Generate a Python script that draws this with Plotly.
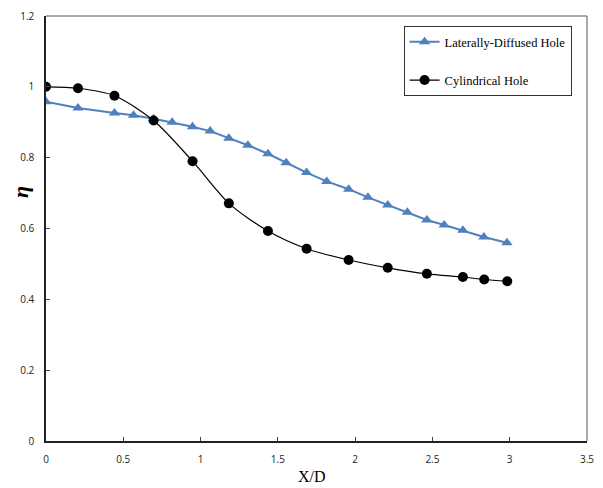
import plotly.graph_objects as go

# Laterally-diffused hole
ld_x = [0.0, 0.207, 0.443, 0.566, 0.696, 0.816, 0.948, 1.062, 1.183, 1.306, 1.436, 1.554,
        1.686, 1.816, 1.958, 2.083, 2.211, 2.338, 2.464, 2.576, 2.697, 2.833, 2.982]
ld_y = [0.958, 0.940, 0.926, 0.920, 0.910, 0.900, 0.887, 0.875, 0.855, 0.835, 0.811, 0.786,
        0.758, 0.733, 0.711, 0.688, 0.666, 0.646, 0.624, 0.610, 0.595, 0.576, 0.560]

# Cylindrical hole
cy_x = [0.0, 0.207, 0.443, 0.696, 0.948, 1.183, 1.436, 1.686, 1.958, 2.211, 2.464, 2.697, 2.835, 2.984]
cy_y = [1.0, 0.996, 0.975, 0.905, 0.790, 0.671, 0.593, 0.543, 0.511, 0.489, 0.472, 0.463, 0.456, 0.451]

x_ticks = [0, 0.5, 1, 1.5, 2, 2.5, 3, 3.5]
y_ticks = [0, 0.2, 0.4, 0.6, 0.8, 1, 1.2]

fig = go.Figure()
fig.add_trace(go.Scatter(
    x=ld_x, y=ld_y, mode="lines+markers", name="Laterally-Diffused Hole",
    line=dict(color="#4F81BD", width=2),
    marker=dict(symbol="triangle-up", size=10, color="#4F81BD"),
    legendgroup="a",
))
fig.add_trace(go.Scatter(
    x=cy_x, y=cy_y, mode="lines+markers", name="Cylindrical Hole",
    line=dict(color="black", width=1.2, shape="spline", smoothing=0.8),
    marker=dict(symbol="circle", size=10, color="black"),
    legendgroup="b",
))

serif = "Liberation Serif, Times New Roman, serif"
fig.update_layout(
    width=603, height=488,
    margin=dict(l=46, r=16, t=16, b=47),
    paper_bgcolor="white", plot_bgcolor="white",
    font=dict(family="Open Sans, Liberation Sans, sans-serif", size=10, color="#222"),
    showlegend=True,
    legend=dict(
        x=0.661, y=0.976, xanchor="left", yanchor="top",
        bordercolor="#333", borderwidth=1, bgcolor="white",
        font=dict(family=serif, size=12.5, color="black"),
        traceorder="grouped", tracegroupgap=19, itemwidth=30,
    ),
    xaxis=dict(
        range=[0, 3.5], tickvals=x_ticks, ticktext=[str(v) for v in x_ticks],
        showgrid=False, zeroline=False, automargin=False,
        showline=True, linecolor="#222", linewidth=1.5, mirror=False,
        ticks="inside", ticklen=4, tickcolor="#444",
        ticklabelstandoff=8,
    ),
    yaxis=dict(
        range=[0, 1.2], tickvals=y_ticks, ticktext=["0", "0.2", "0.4", "0.6", "0.8", "1", "1.2"],
        showgrid=False, zeroline=False, automargin=False,
        showline=True, linecolor="#222", linewidth=1.5, mirror=False,
        ticks="inside", ticklen=4, tickcolor="#444",
        ticklabelstandoff=8,
    ),
    annotations=[
        dict(text="X/D", xref="paper", yref="paper", x=0.491, y=-0.084,
             xanchor="center", yanchor="middle", showarrow=False,
             font=dict(family=serif, size=16, color="black")),
        dict(text="<b><i>η</i></b>", xref="paper", yref="paper", x=-0.047, y=0.585,
             xanchor="center", yanchor="middle", showarrow=False, textangle=-90,
             font=dict(family=serif, size=22, color="black")),
    ],
)
# gray right/top frame
fig.add_shape(type="line", xref="paper", yref="paper", x0=1, x1=1, y0=0, y1=1,
              line=dict(color="#555", width=1))
fig.add_shape(type="line", xref="paper", yref="paper", x0=0, x1=1, y0=1, y1=1,
              line=dict(color="#555", width=1))

fig.write_html("out.html")
